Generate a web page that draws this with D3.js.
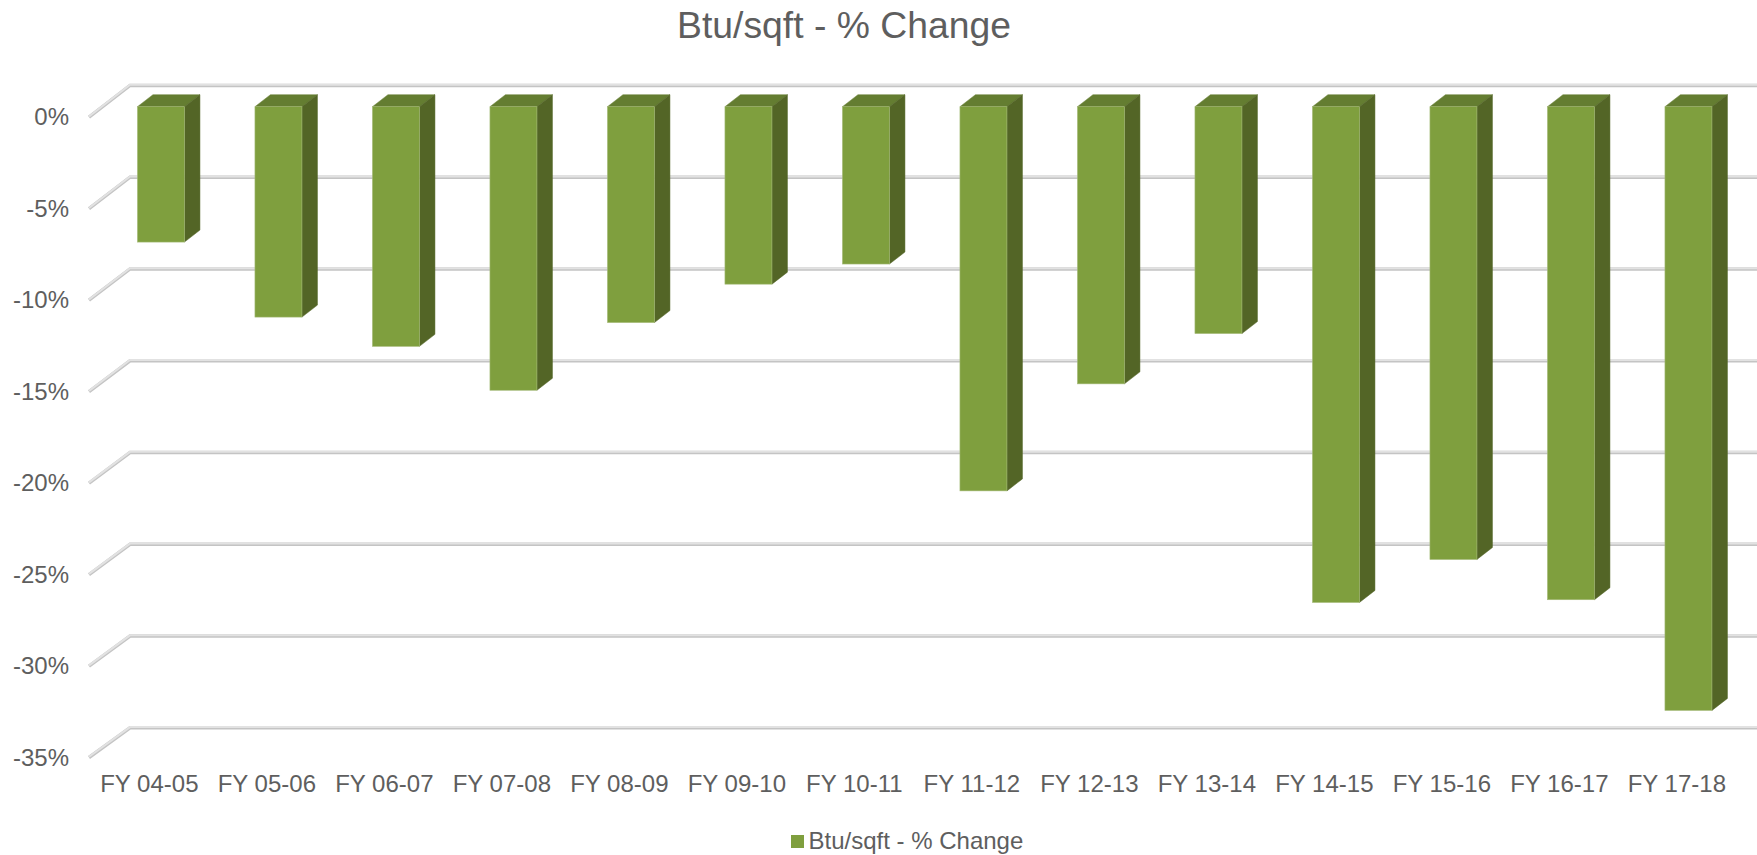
<!DOCTYPE html>
<html>
<head>
<meta charset="utf-8">
<script src="https://cdn.jsdelivr.net/npm/d3@7"></script>
<style>
html, body {margin: 0; padding: 0; background: #fff; overflow: hidden;}
text {font-family: "Liberation Sans", Arial, sans-serif; fill: #5e5e5e;}
</style>
</head>
<body>
<svg id="chart" width="1757" height="855"></svg>
<script>
var categories = ["FY 04-05","FY 05-06","FY 06-07","FY 07-08","FY 08-09","FY 09-10","FY 10-11","FY 11-12","FY 12-13","FY 13-14","FY 14-15","FY 15-16","FY 16-17","FY 17-18"];
var values = [-7.4,-11.5,-13.1,-15.5,-11.8,-9.7,-8.6,-21.0,-15.15,-12.4,-27.1,-24.75,-26.95,-33.0];
var yTicks = [0,-5,-10,-15,-20,-25,-30,-35];
var seriesName = "Btu/sqft - % Change";

var svg = d3.select("#chart");

var depthX = 15.5, depthY = 12;
var frontColor = "#7f9f3e", sideColor = "#536526", topColor = "#647d31";

var scaleX = d3.scaleBand()
	.domain(categories)
	.range([102.2,1747.2])
	.paddingInner(0.6)
	.paddingOuter(0.3);

// bars, back wall and the slanted floor edge each sit on their own plane
var scaleY = d3.scaleLinear().domain([0,-35]).range([106.7,747]);
var scaleBack = d3.scaleLinear().domain([0,-35]).range([85,727.3]);
var scaleSide = d3.scaleLinear().domain([0,-35]).range([116.7,757]);

var sideX = 89, backX = 130;

// gridlines
var grid = svg.append("g");
function drawGrid(stroke, width, offset){
	var lineGenerator = d3.line();
	grid.selectAll(null)
		.data(yTicks)
		.enter()
		.append("path")
			.attr("d", function(d){
				return lineGenerator([[sideX,scaleSide(d)+offset],[backX,scaleBack(d)+offset],[1757,scaleBack(d)+offset]]);
			})
			.attr("fill", "none")
			.attr("stroke", stroke)
			.attr("stroke-width", width);
}
drawGrid("#c4c4c4", 3.4, 0.5);
drawGrid("#e2e2e2", 2, -0.2);

// bars
var bars = svg.append("g").selectAll("g")
	.data(categories)
	.enter()
	.append("g");

function barPath(points){
	return d3.line()(points) + "Z";
}

// top face
bars.append("path")
	.attr("d", function(d){
		var x0 = scaleX(d), x1 = x0 + scaleX.bandwidth(), y0 = scaleY(0);
		return barPath([[x0,y0],[x1,y0],[x1+depthX,y0-depthY],[x0+depthX,y0-depthY]]);
	})
	.attr("fill", topColor)
	.attr("stroke", topColor)
	.attr("stroke-width", 0.5);

// side face
bars.append("path")
	.attr("d", function(d,i){
		var x1 = scaleX(d) + scaleX.bandwidth(), y0 = scaleY(0), y1 = scaleY(values[i]);
		return barPath([[x1,y0],[x1+depthX,y0-depthY],[x1+depthX,y1-depthY],[x1,y1]]);
	})
	.attr("fill", sideColor)
	.attr("stroke", sideColor)
	.attr("stroke-width", 0.5);

// front face
bars.append("rect")
	.attr("x", function(d){ return scaleX(d); })
	.attr("y", scaleY(0))
	.attr("width", scaleX.bandwidth())
	.attr("height", function(d,i){ return scaleY(values[i]) - scaleY(0); })
	.attr("fill", frontColor)
	.attr("stroke", "#a5ba78")
	.attr("stroke-width", 0.6);

// y axis labels
var yAxis = svg.append("g")
	.attr("transform", "translate(69,0)")
	.call(d3.axisLeft(scaleSide)
		.tickValues(yTicks)
		.tickSize(0)
		.tickPadding(0)
		.tickFormat(function(d){ return d + "%"; }));
yAxis.select(".domain").remove();
yAxis.selectAll("text")
	.attr("font-size", "24px")
	.attr("dy", "0.34em")
	.attr("font-family", null);

// x axis labels, shifted left of the bars because of the depth
var xAxis = svg.append("g")
	.attr("transform", "translate(-11.6,784)")
	.call(d3.axisBottom(scaleX).tickSize(0).tickPadding(0));
xAxis.select(".domain").remove();
xAxis.selectAll("text")
	.attr("y", 0)
	.attr("dy", "0.35em")
	.attr("font-size", "24px")
	.attr("font-family", null);

// title
svg.append("text")
	.attr("x", 844)
	.attr("y", 25)
	.attr("dy", "0.35em")
	.attr("text-anchor", "middle")
	.attr("font-size", "37.3px")
	.text(seriesName);

// legend
svg.append("rect")
	.attr("x", 791)
	.attr("y", 835)
	.attr("width", 13)
	.attr("height", 13)
	.attr("fill", frontColor);
svg.append("text")
	.attr("x", 808.5)
	.attr("y", 841)
	.attr("dy", "0.35em")
	.attr("font-size", "24px")
	.text(seriesName);
</script>
</body>
</html>
